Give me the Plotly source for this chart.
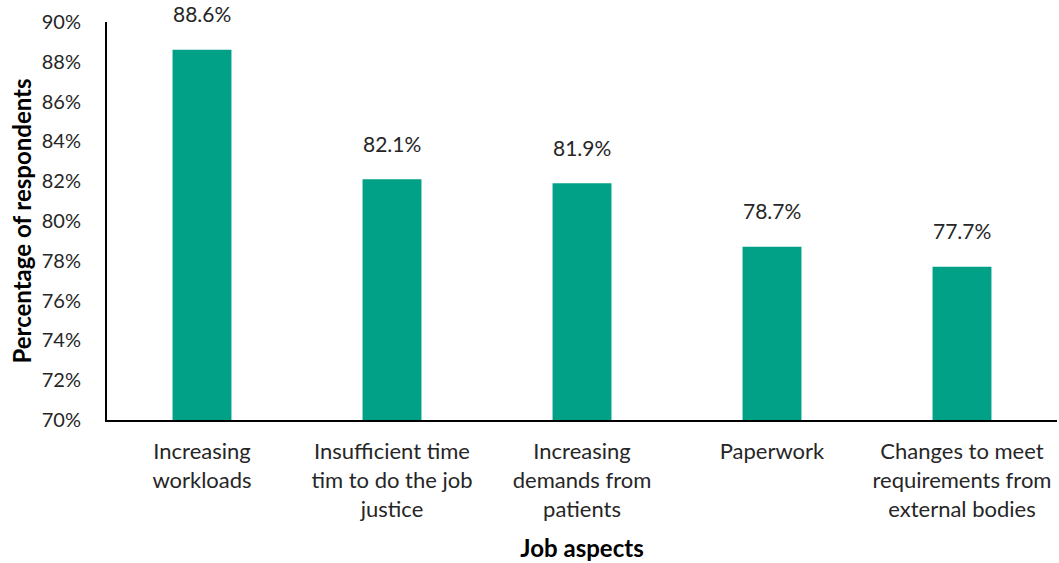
import plotly.graph_objects as go

categories = [
    "Increasing<br>workloads",
    "Insufficient time<br>tim to do the job<br>justice",
    "Increasing<br>demands from<br>patients",
    "Paperwork",
    "Changes to meet<br>requirements from<br>external bodies",
]
values = [88.6, 82.1, 81.9, 78.7, 77.7]
labels = [f"{v:.1f}%" for v in values]
y_ticks = [70, 72, 74, 76, 78, 80, 82, 84, 86, 88, 90]
y_tick_text = [f"{t}%" for t in y_ticks]

FONT = "Lato, Calibri, Carlito, sans-serif"

fig = go.Figure(
    go.Bar(
        x=categories,
        y=values,
        marker=dict(color="#00A187", line=dict(width=0)),
        hoverinfo="x+y",
    )
)

for c, v, t in zip(categories, values, labels):
    fig.add_annotation(
        x=c, y=v, text=t, showarrow=False, yshift=36,
        font=dict(size=21, color="#262626", family=FONT),
    )

fig.update_layout(
    width=1059,
    height=563,
    margin=dict(l=107, r=2, t=22, b=143),
    plot_bgcolor="white",
    paper_bgcolor="white",
    bargap=0.69,
    showlegend=False,
    font=dict(family=FONT, color="#262626", size=20),
    xaxis=dict(
        automargin=False,
        showline=True,
        linecolor="black",
        linewidth=2,
        ticks="outside",
        ticklen=11,
        tickcolor="white",
        tickfont=dict(size=22, color="#262626"),
        title=dict(text="<b>Job aspects</b>", font=dict(size=24, color="black"), standoff=20),
    ),
    yaxis=dict(
        automargin=False,
        range=[70, 90],
        tickvals=y_ticks,
        ticktext=y_tick_text,
        showline=True,
        linecolor="black",
        linewidth=2,
        showgrid=False,
        zeroline=False,
        ticks="outside",
        ticklen=20,
        tickcolor="white",
        tickfont=dict(size=20, color="#262626"),
        title=dict(text="<b>Percentage of respondents</b>", font=dict(size=24, color="black"), standoff=3),
    ),
)

fig.write_html(
    "out.html",
    config={"displayModeBar": False},
    post_script="document.body.style.margin='0';document.body.style.overflow='hidden';",
)
